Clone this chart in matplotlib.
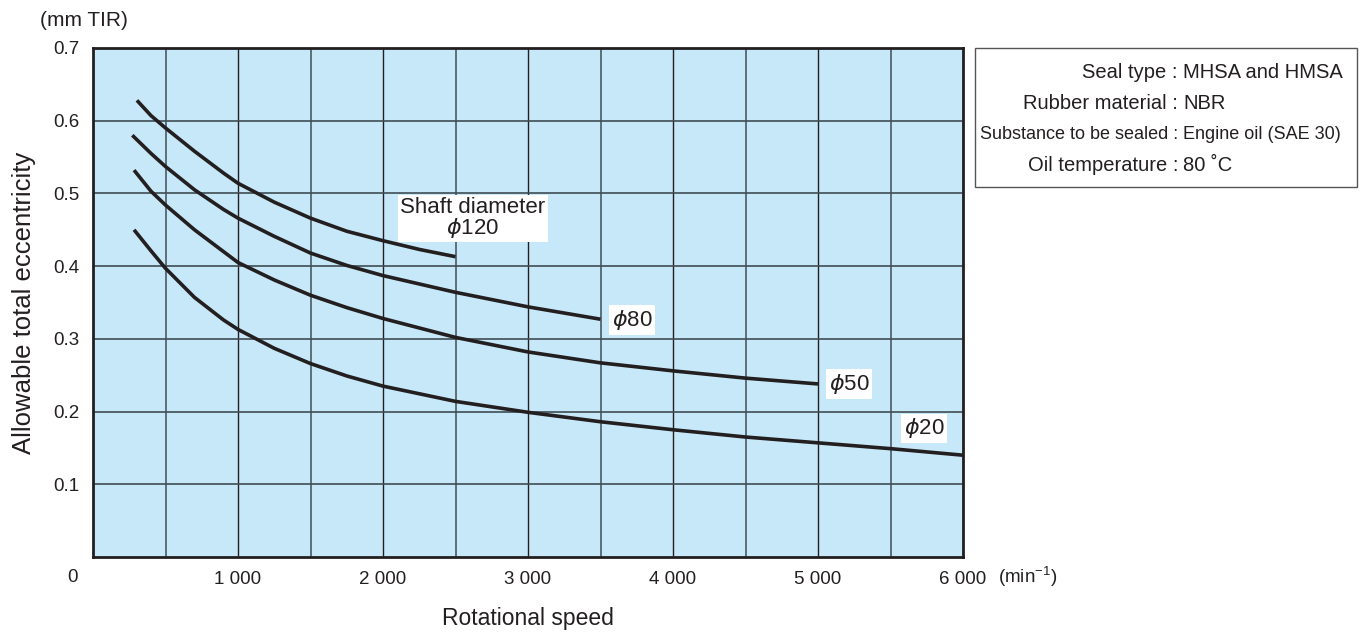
import matplotlib
matplotlib.use('Agg')
import matplotlib.pyplot as plt
from matplotlib.patches import Rectangle

plt.rcParams['font.family'] = ['Liberation Sans', 'DejaVu Sans']
plt.rcParams['mathtext.fontset'] = 'custom'
plt.rcParams['mathtext.rm'] = 'Liberation Sans'
plt.rcParams['mathtext.it'] = 'DejaVu Sans:italic'

# rotational speed (min^-1) and allowable eccentricity (mm TIR)
speed_120 = [303, 400, 500, 700, 900, 1000, 1250, 1500, 1750, 2000, 2250, 2500]
ecc_120 = [0.628, 0.607, 0.590, 0.558, 0.528, 0.514, 0.488, 0.466, 0.448, 0.435,
           0.423, 0.413]

speed_80 = [271, 400, 500, 700, 900, 1000, 1250, 1500, 1750, 2000, 2500, 3000,
            3500]
ecc_80 = [0.580, 0.555, 0.537, 0.505, 0.478, 0.466, 0.441, 0.418, 0.401, 0.387,
          0.364, 0.344, 0.327]

speed_50 = [283, 400, 500, 700, 900, 1000, 1250, 1500, 1750, 2000, 2500, 3000,
            3500, 4000, 4500, 5000]
ecc_50 = [0.532, 0.503, 0.484, 0.450, 0.420, 0.405, 0.381, 0.360, 0.343, 0.328,
          0.302, 0.282, 0.267, 0.256, 0.246, 0.238]

speed_20 = [283, 400, 500, 700, 900, 1000, 1250, 1500, 1750, 2000, 2500, 3000,
            3500, 4000, 4500, 5000, 5500, 6000]
ecc_20 = [0.450, 0.421, 0.397, 0.357, 0.326, 0.313, 0.287, 0.266, 0.249, 0.235,
          0.214, 0.199, 0.186, 0.175, 0.165, 0.157, 0.149, 0.140]

curve_labels = ['Shaft diameter\n$\\phi$120', '$\\phi$80', '$\\phi$50', '$\\phi$20']
label_pos = [(2620, 0.466), (3720, 0.326), (5215, 0.238), (5730, 0.177)]

x_ticks = [1000, 2000, 3000, 4000, 5000, 6000]
x_ticklabels = ['1 000', '2 000', '3 000', '4 000', '5 000', '6 000']
y_ticks = [0.1, 0.2, 0.3, 0.4, 0.5, 0.6, 0.7]

conditions = [('Seal type', 'MHSA and HMSA'),
              ('Rubber material', 'NBR'),
              ('Substance to be sealed', 'Engine oil (SAE 30)'),
              ('Oil temperature', '80 \u02daC')]

W, H = 1366, 633
fig = plt.figure(figsize=(W / 100, H / 100), dpi=100)
ax = fig.add_axes([93 / W, (H - 557) / H, 870 / W, 509 / H])
ax.set_facecolor('#c6e8f8')

ax.set_xlim(0, 6000)
ax.set_ylim(0, 0.7)
ax.set_xticks(x_ticks)
ax.set_xticklabels(x_ticklabels)
ax.set_xticks([500, 1500, 2500, 3500, 4500, 5500], minor=True)
ax.set_yticks(y_ticks)
ax.set_yticklabels(['%.1f' % v for v in y_ticks])
ax.tick_params(which='both', length=0, labelsize=13.5, colors='#231f20')
ax.tick_params(axis='y', pad=10)
ax.tick_params(axis='x', pad=10)

ax.grid(which='major', axis='x', color='#231f20', lw=1.0)
ax.grid(which='minor', axis='x', color='#5d6e77', lw=1.4)
ax.grid(which='major', axis='y', color='#3f4c53', lw=1.2)
ax.set_axisbelow(True)

for s in ax.spines.values():
    s.set_linewidth(2.0)
    s.set_color('#231f20')

for xs, ys in [(speed_120, ecc_120), (speed_80, ecc_80),
               (speed_50, ecc_50), (speed_20, ecc_20)]:
    ax.plot(xs, ys, color='#231f20', lw=2.6, solid_capstyle='butt',
            solid_joinstyle='round', clip_on=False, zorder=3)

for txt, (x, y) in zip(curve_labels, label_pos):
    ax.text(x, y, txt, ha='center', va='center', fontsize=16,
            color='#231f20', linespacing=0.9, zorder=4,
            bbox=dict(facecolor='white', edgecolor='none', pad=2))

ax.set_ylabel('Allowable total eccentricity', fontsize=18.5, color='#231f20',
              labelpad=12)
ax.set_xlabel('Rotational speed', fontsize=16.5, color='#231f20', labelpad=14)

fig.text(84 / W, 1 - 20 / H, '(mm TIR)', ha='center', va='center',
         fontsize=15, color='#231f20')
fig.text(73 / W, 1 - 577 / H, '0', ha='center', va='center',
         fontsize=13.5, color='#231f20')
fig.text(998 / W, 1 - 577 / H, '(min$^{-1}$)', ha='left', va='center',
         fontsize=13.5, color='#231f20')

# condition box
fig.patches.append(Rectangle((975 / W, 1 - 187 / H), 382 / W, 139 / H,
                             transform=fig.transFigure, facecolor='white',
                             edgecolor='#555555', lw=1.0))
for i, (key, val) in enumerate(conditions):
    yy = 1 - (72 + i * 31.3) / H
    fs = 13 if len(key) > 18 else 14.5
    fig.text(1178 / W, yy, key + ' :', ha='right', va='center', fontsize=fs,
             color='#231f20')
    fig.text(1183 / W, yy, val, ha='left', va='center', fontsize=fs,
             color='#231f20')

fig.savefig('out.png', dpi=100)
